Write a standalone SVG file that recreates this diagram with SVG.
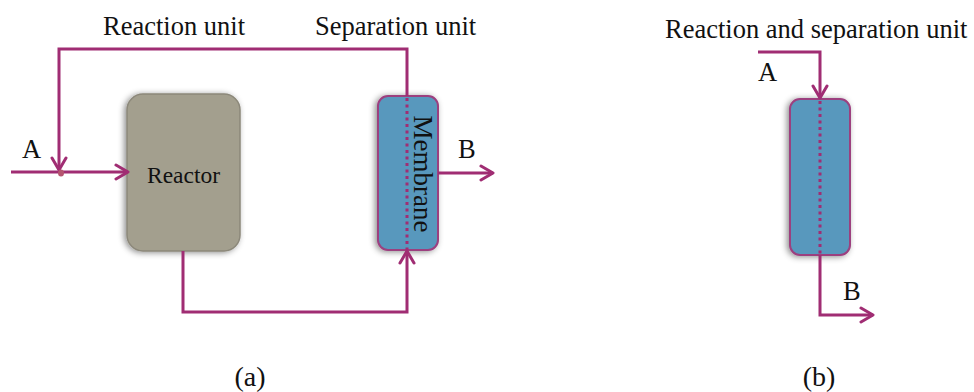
<svg xmlns="http://www.w3.org/2000/svg" width="974" height="392" viewBox="0 0 974 392">
<style>
text{font-family:"Liberation Serif","Times New Roman",serif;fill:#111}
.lbl{font-size:26.5px}
.ln{fill:none;stroke:#a02d73;stroke-width:3}
.dot{fill:none;stroke:#a02d73;stroke-width:3;stroke-dasharray:3 3.5}
.reactor{fill:#a39f8e;stroke:#8c887a;stroke-width:1.5}
.membrane{fill:#5898bd;stroke:#9c3f7f;stroke-width:2}
</style>
<defs>
<filter id="sh" x="-30%" y="-30%" width="160%" height="160%">
<feDropShadow dx="-2" dy="1" stdDeviation="3" flood-color="#000" flood-opacity="0.45"/>
</filter>
<marker id="arr" markerUnits="userSpaceOnUse" viewBox="0 0 16 18" markerWidth="16" markerHeight="18" refX="14" refY="9" orient="auto">
<path d="M2,2 L14,9 L2,16" fill="none" stroke="#a02d73" stroke-width="3" stroke-linecap="round" stroke-linejoin="round"/>
</marker>
</defs>
<text class="lbl" x="103" y="35">Reaction unit</text>
<text class="lbl" x="315" y="35">Separation unit</text>
<text class="lbl" x="665" y="38">Reaction and separation unit</text>
<g id="reactor">
<rect class="reactor" x="127" y="94" width="113" height="157" rx="16" filter="url(#sh)"/>
<text x="183.5" y="183" font-size="23.5" text-anchor="middle">Reactor</text>
</g>
<g id="membrane-a">
<rect class="membrane" x="378" y="96" width="60" height="154" rx="10" filter="url(#sh)"/>
</g>
<g id="membrane-b">
<rect class="membrane" x="790" y="99" width="60" height="156" rx="10" filter="url(#sh)"/>
</g>
<g id="connectors">
<path class="ln" d="M407,96 L407,49 L59,49 L59,170" marker-end="url(#arr)"/>
<path class="ln" d="M11,172 L128,172" marker-end="url(#arr)"/>
<ellipse cx="61" cy="173" rx="3" ry="3.5" fill="#b5546f"/>
<path class="ln" d="M183,251 L183,312 L407,312 L407,251" marker-end="url(#arr)"/>
<path class="ln" d="M438,173 L493,173" marker-end="url(#arr)"/>
<path class="dot" d="M407,98 L407,250"/>
<path class="ln" d="M758,52 L820,52 L820,98" marker-end="url(#arr)"/>
<path class="dot" d="M820,101 L820,255"/>
<path class="ln" d="M820,255 L820,315 L873,315" marker-end="url(#arr)"/>
</g>
<text x="414" y="174" font-size="27" text-anchor="middle" transform="rotate(90 414 174)">Membrane</text>
<text class="lbl" x="22" y="158">A</text>
<text class="lbl" x="458" y="158">B</text>
<text class="lbl" x="758" y="81">A</text>
<text class="lbl" x="843" y="300">B</text>
<text x="250" y="386" font-size="28" text-anchor="middle">(a)</text>
<text x="819" y="386" font-size="28" text-anchor="middle">(b)</text>
</svg>
